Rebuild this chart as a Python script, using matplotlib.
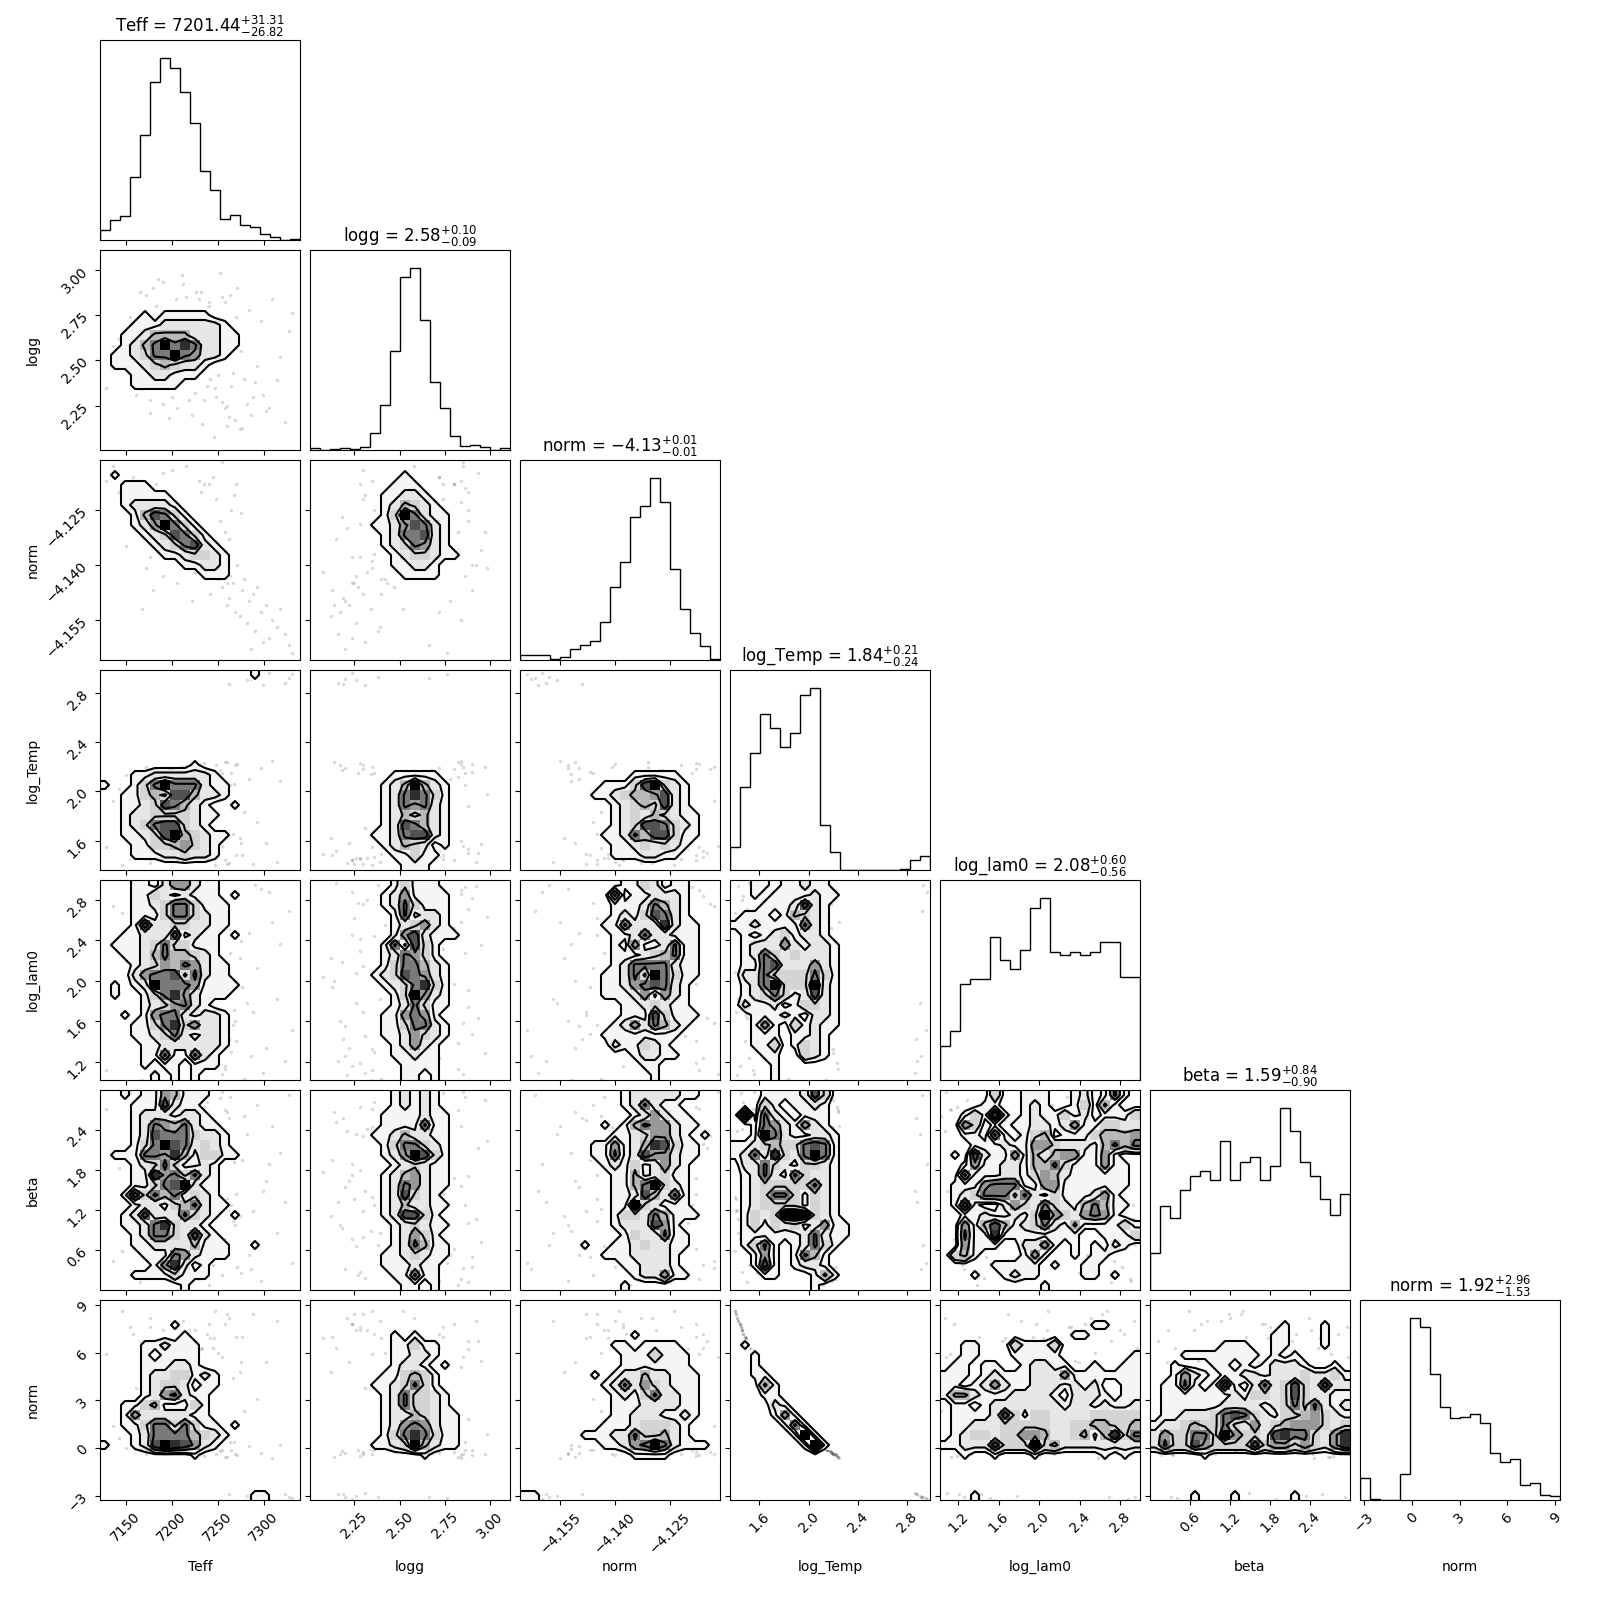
import numpy as np
import matplotlib
matplotlib.use('Agg')
import matplotlib.pyplot as plt
from matplotlib.colors import ListedColormap

# parameter names, ranges and ticks, left to right
labels = ['Teff', 'logg', 'norm', 'log_Temp', 'log_lam0', 'beta', 'norm']
ranges = [(7122, 7339.5), (2.006, 3.109), (-4.166, -4.1114), (1.362, 2.984),
          (1.019, 2.995), (0.0, 2.995), (-3.27, 9.31)]
ticks = [[7150, 7200, 7250, 7300], [2.25, 2.50, 2.75, 3.00], [-4.155, -4.140, -4.125],
         [1.6, 2.0, 2.4, 2.8], [1.2, 1.6, 2.0, 2.4, 2.8], [0.6, 1.2, 1.8, 2.4], [-3, 0, 3, 6, 9]]
titles = [r'Teff = $7201.44_{-26.82}^{+31.31}$', r'logg = $2.58_{-0.09}^{+0.10}$',
          r'norm = $-4.13_{-0.01}^{+0.01}$', r'log_Temp = $1.84_{-0.24}^{+0.21}$',
          r'log_lam0 = $2.08_{-0.56}^{+0.60}$', r'beta = $1.59_{-0.90}^{+0.84}$',
          r'norm = $1.92_{-1.53}^{+2.96}$']

# 1d histogram heights, 20 bins each
hist_teff = [29, 60, 71, 188, 314, 474, 545, 515, 443, 350, 206, 149, 62, 74, 44, 39, 18, 8, 1, 3]
hist_logg = [5, 0, 4, 6, 4, 8, 50, 134, 296, 518, 545, 390, 203, 126, 42, 12, 15, 9, 1, 5]
hist_norm = [15, 15, 15, 3, 9, 33, 45, 57, 114, 219, 294, 429, 462, 546, 474, 273, 153, 81, 42, 3]
hist_temp = [69, 249, 351, 469, 426, 369, 412, 526, 546, 135, 55, 0, 0, 0, 0, 0, 0, 2, 30, 42]
hist_lam0 = [102, 148, 288, 303, 303, 429, 360, 333, 390, 516, 546, 384, 375, 384, 375, 384, 414, 414, 309, 309]
hist_beta = [111, 252, 216, 301, 342, 357, 330, 447, 330, 384, 399, 330, 372, 546, 477, 384, 342, 273, 225, 288]
hist_norm2 = [66, 2, 0, 0, 77, 545, 520, 379, 280, 245, 248, 257, 230, 142, 115, 122, 46, 52, 14, 11]

# the outlying samples, same order in every list
s_teff = [7128, 7136, 7143, 7155, 7161, 7172, 7176, 7183, 7190, 7197, 7205, 7211, 7219, 7226, 7233, 7241,
          7247, 7252, 7258, 7263, 7267, 7271, 7276, 7279, 7284, 7288, 7293, 7297, 7303, 7309, 7314, 7318,
          7323, 7327, 7331, 7246, 7255, 7262, 7274, 7282, 7291, 7299, 7238, 7269, 7306, 7286, 7260, 7250,
          7165, 7172, 7240, 7248, 7255, 7260, 7180, 7158, 7268, 7275, 7235, 7212, 7222, 7190, 7200, 7245,
          7253, 7262, 7168, 7176, 7242, 7230, 7270, 7150, 7146, 7258, 7232, 7206, 7215, 7225, 7265, 7185]
s_logg = [2.35, 2.58, 2.62, 2.74, 2.31, 2.86, 2.21, 2.80, 2.93, 2.18, 2.84, 2.97, 2.28, 2.88, 2.15, 2.82,
          2.35, 2.98, 2.24, 2.86, 2.43, 2.90, 2.13, 2.40, 2.78, 2.30, 2.47, 2.72, 2.22, 2.84, 2.39, 2.52,
          2.16, 2.66, 2.76, 2.08, 2.27, 2.19, 2.12, 2.26, 2.38, 2.31, 2.36, 2.17, 2.24, 2.20, 2.14, 2.42,
          2.88, 2.35, 2.80, 2.30, 2.85, 2.25, 2.90, 2.72, 2.62, 2.55, 2.28, 2.92, 2.20, 2.26, 2.30, 2.72,
          2.68, 2.58, 2.34, 2.28, 2.40, 2.84, 2.74, 2.46, 2.52, 2.82, 2.88, 2.24, 2.85, 2.32, 2.36, 2.95]
s_norm = [-4.117, -4.113, -4.120, -4.122, -4.121, -4.119, -4.130, -4.118, -4.115, -4.127, -4.123, -4.131,
          -4.129, -4.128, -4.133, -4.136, -4.139, -4.141, -4.138, -4.143, -4.145, -4.140, -4.147, -4.144,
          -4.150, -4.148, -4.146, -4.153, -4.151, -4.155, -4.157, -4.152, -4.159, -4.162, -4.164, -4.142,
          -4.146, -4.149, -4.154, -4.156, -4.158, -4.161, -4.137, -4.153, -4.160, -4.163, -4.151, -4.144,
          -4.125, -4.141, -4.118, -4.122, -4.112, -4.145, -4.147, -4.116, -4.121, -4.126, -4.118, -4.140,
          -4.150, -4.143, -4.114, -4.116, -4.128, -4.133, -4.152, -4.138, -4.148, -4.117, -4.118, -4.135,
          -4.124, -4.131, -4.120, -4.145, -4.113, -4.142, -4.125, -4.136]
s_temp = [1.55, 1.92, 2.02, 1.45, 1.70, 2.15, 1.42, 2.18, 1.50, 2.17, 1.60, 2.20, 1.46, 1.88, 1.52, 2.12,
          1.40, 1.98, 1.44, 2.05, 1.65, 2.22, 1.48, 1.83, 2.10, 1.41, 1.75, 2.19, 1.58, 2.25, 1.43, 2.08,
          2.88, 2.92, 2.95, 1.49, 2.15, 2.87, 1.62, 2.90, 2.93, 2.86, 1.47, 2.21, 2.96, 2.91, 2.24, 1.54,
          1.50, 2.20, 1.44, 2.21, 1.56, 1.41, 2.16, 1.47, 2.06, 1.58, 2.23, 1.43, 2.19, 1.46, 2.18, 1.52,
          2.17, 1.42, 2.14, 1.45, 1.49, 2.22, 1.48, 2.13, 1.40, 2.24, 1.53, 1.44, 2.20, 1.46, 2.15, 1.57]
s_lam0 = [1.12, 2.74, 1.88, 2.31, 1.45, 2.93, 1.07, 2.52, 1.63, 2.18, 2.86, 1.29, 2.41, 1.74, 2.97, 1.38,
          2.09, 2.63, 1.16, 2.27, 1.56, 2.82, 1.94, 1.03, 2.47, 1.69, 2.13, 2.91, 1.34, 2.58, 1.82, 2.36,
          1.21, 2.69, 1.51, 2.04, 2.77, 1.42, 2.22, 1.78, 2.95, 1.09, 2.44, 1.60, 2.88, 1.26, 2.00, 2.55,
          2.71, 1.33, 1.97, 2.15, 1.08, 2.62, 1.47, 2.84, 1.71, 2.39, 1.19, 2.94, 1.55, 2.08, 2.76, 1.24,
          1.86, 2.51, 1.02, 2.29, 1.66, 2.90, 1.40, 2.19, 2.67, 1.13, 1.91, 2.45, 1.58, 2.80, 1.30, 2.35]
s_beta = [2.71, 0.44, 1.83, 2.95, 0.18, 1.27, 2.38, 0.62, 2.12, 0.93, 1.56, 2.84, 0.27, 1.71, 2.52, 0.08,
          1.39, 2.23, 0.76, 2.89, 1.04, 0.35, 1.94, 2.61, 0.53, 1.18, 2.77, 0.14, 1.63, 2.46, 0.85, 2.05,
          1.32, 2.92, 0.41, 1.77, 0.23, 2.58, 1.11, 2.33, 0.68, 1.49, 2.81, 0.97, 1.88, 0.31, 2.67, 1.22,
          0.12, 2.44, 1.68, 0.79, 2.96, 1.36, 0.49, 2.18, 1.91, 0.25, 2.74, 1.07, 1.54, 0.66, 2.31, 0.38,
          2.87, 1.20, 0.89, 1.79, 2.55, 0.16, 1.44, 2.08, 0.58, 2.69, 1.00, 1.72, 0.33, 2.41, 1.28, 0.72]
s_norm2 = [5.9, 1.4, 0.6, 7.6, 3.8, -0.1, 8.2, -0.25, 6.7, -0.2, 5.1, -0.35, 7.4, 1.8, 6.3, 0.0,
           8.6, 0.9, 7.8, 0.4, 4.4, -0.45, 7.0, 2.3, 0.1, 8.4, 3.1, -0.3, 5.4, -0.6, 8.0, 0.2,
           -2.9, -3.05, -3.15, 6.9, -0.1, -2.9, 4.8, -3.0, -3.1, -2.85, 7.2, -0.4, -3.2, -3.05, -0.55, 6.0,
           6.7, -0.35, 7.8, -0.4, 5.7, 8.4, -0.15, 7.2, 0.35, 5.4, -0.5, 8.0, -0.3, 7.4, -0.25, 6.3,
           -0.2, 8.2, -0.05, 7.6, 6.9, -0.45, 7.0, -0.02, 8.6, -0.55, 6.2, 7.8, -0.35, 7.4, -0.1, 5.5]

# 2d densities: one digit per bin (0 empty, 9 peak), top row first
logg_teff = ['0', '0', '0', '0', '0', '0',
    '00001011111000000000', '00011122222210000000', '00112444422211000000', '00124696862211000000',
    '01123669652210000000', '01112343221000000000', '00011221110000000000', '00011111000000000000',
    '0', '0', '0', '0', '0', '0']
norm_teff = ['0',
    '01000000000000000000', '00111000000000000000', '00111110000000000000', '00122221000000000000',
    '00014763100000000000', '00012596310000000000', '00001237631000000000', '00000123672100000000',
    '00000011233210000000', '00000000112210000000', '00000000001110000000',
    '0', '0', '0', '0', '0', '0', '0', '0']
norm_logg = ['0',
    '00000000010000000000', '00000000111000000000', '00000001122100000000', '00000001243210000000',
    '00000001396211000000', '00000011257621000000', '00000001266721000000', '00000001236521000000',
    '00000000123321100000', '00000000112210000000', '00000000011110000000',
    '0', '0', '0', '0', '0', '0', '0', '0']
temp_teff = ['00000000000000010000', '0', '0', '0', '0', '0', '0', '0', '0',
    '00000000010000000000', '00011222222100000000', '10013696662110000000', '00113437742210000000',
    '00112376421001000000', '00122333321100000000', '00123677321000000000', '00112379432110000000',
    '00011334532100000000', '00011122322100000000', '0']
temp_logg = ['0', '0', '0', '0', '0', '0', '0', '0', '0', '0',
    '00000000111110000000', '00000001249421000000', '00000001268631000000', '00000001265621000000',
    '00000001243421000000', '00000001276421000000', '00000011267721000000', '00000001243201000000',
    '00000000113110000000', '00000000011100000000']
temp_norm = ['0', '0', '0', '0', '0', '0', '0', '0', '0', '0',
    '00000000000111110000', '00000000111379321000', '00000001123445721000', '00000000012343721000',
    '00000000012324321100', '00000000012377632100', '00000000112647731100', '00000000011232321000',
    '00000000011122110000', '0']
lam0_teff = ['00011025521100000000', '00011321211101000000', '00011236631110000000', '00011136632110000000',
    '00017223322110000000', '00112227121101000000', '01112363311100000000', '00112464432100000000',
    '00012354652110000000', '00025667362110000000', '01012966651111000000', '01001368521110000000',
    '00001235621000000000', '00101566212210000000', '00011368352210000000', '00011236212210000000',
    '00001122222210000000', '00001161162100000000', '00001011011100000000', '00000101010000000000']
lam0_logg = ['00000000131110000000', '00000001251111000000', '00000001263111000000', '00000000161221000000',
    '00000000123521000000', '00000000157211100000', '00000001617310000000', '00000001265310000000',
    '00000001366421000000', '00000012376521000000', '00000001236831000000', '00000000139521000000',
    '00000000126311000000', '00000001156510000000', '00000001136621000000', '00000001125321000000',
    '00000000125210000000', '00000000112110000000', '00000000011110000000', '00000000011010000000']
lam0_norm = ['00000000001132011000', '00000000060112221000', '00000000011126421000', '00000000012137621000',
    '00000000116222821100', '00000000011262211100', '00000000010511261100', '00000000011123461100',
    '00000000012666621100', '00000000112639631100', '00000000112567621000', '00000000111251521000',
    '00000000001123211000', '00000000001117311100', '00000000012526421000', '00000000111111110000',
    '00000000021132100000', '00000000000122110000', '00000000000011000000', '00000000000001000000']
lam0_temp = ['00110112110000000000', '00101111211000000000', '00011127210000000000', '01110143210000000000',
    '11211116210000000000', '01012312210000000000', '01222521221000000000', '01263232221000000000',
    '01167222521000000000', '02263333631000000000', '01269333921000000000', '01236312721000000000',
    '02112013321000000000', '00111210221000000000', '00151031211000000000', '00111011210000000000',
    '00113013210000000000', '00011003210000000000', '00001000000000000000', '00001000000000000000']
beta_teff = ['00101154111000000000', '00011172110000000000', '00012221221000000000', '00012654621100000000',
    '00012766632210000000', '00013697623210000000', '01116658413311000000', '00012363112100000000',
    '00011856362100000000', '00011367921100000000', '00173646232100000000', '00012213462110000000',
    '00127222632101000000', '00112683221000000000', '00012663272100000000', '00011222241110010000',
    '00001116521110000000', '00000158201000000000', '00011113111000000000', '00000000100000000000']
beta_logg = ['00000000121210000000', '00000000121210000000', '00000001111211000000', '00000001111611000000',
    '00000011242211000000', '00000001366321000000', '00000001259731000000', '00000000123211000000',
    '00000001245211000000', '00000001265211000000', '00000001273210000000', '00000001242211000000',
    '00000001277310000000', '00000000123211000000', '00000000125310000000', '00000000126411000000',
    '00000001123211000000', '00000001112110000000', '00000000116110000000', '00000000011010000000']
beta_norm = ['00000000001222221100', '00000000001262110000', '00000000000125211000', '00000000101465521100',
    '00000000011235521010', '00000001151248731100', '00000001161275521100', '00000000121312521000',
    '00000000011412311000', '00000000011469321000', '00000000011274261000', '00000000011932111000',
    '00000000013326411100', '00000000012227510000', '00000000001322611000', '00000010011232211000',
    '00000000111222210000', '00000000001122210000', '00000000000122511000', '00000000001000000000']
beta_temp = ['00011112730000000000', '00031011210000000000', '07062101110000000000', '00165215210000000000',
    '00196211221000000000', '11234336761000000000', '12628326961000000000', '02263213321000000000',
    '01262163221000000000', '01233333621000000000', '01236631321000000000', '01233331321000000000',
    '01323999321000000000', '01313231251100000000', '01111112621100000000', '01361012631000000000',
    '00151016410000000000', '00171012210000000000', '00011000141000000000', '00000000100000000000']
beta_lam0 = ['00000300111001201610', '00001100121001304100', '00131810121131201113', '00530101122125113322',
    '00110610134011134445', '00011121155322214646', '01072115142455115100', '00151122144631115110',
    '00611122135421111110', '01115666115511111110', '01236663621311125100', '01710025326321464110',
    '00112112139532565100', '00514741236214111131', '00611811111111001113', '00511100225101010210',
    '03410000151001011000', '00000111110100110000', '00010012110000110100', '00000000001000000000']
norm2_teff = ['0', '0', '00000001000000000000', '00000000100000000000',
    '00001121110000000000', '00001011110000000000', '00001112210000000000', '00001223312100000000',
    '00001233201100000000', '00001256211000000000', '00113411131000000000', '00152222211000000000',
    '00113663631101000000', '00012666643210000000', '10012798752100000000', '00000000010000000000',
    '0', '0', '0', '00000000000000011000']
norm2_logg = ['0', '0', '0', '00000000101000000000',
    '00000000113110000000', '00000000112210000000', '00000000122101000000', '00000001134310000000',
    '00000011236310000000', '00000001263321000000', '00000001263321000000', '00000001224321100000',
    '00000001256521100000', '00000001368631100000', '00000011239421100000', '00000000000100000000',
    '0', '0', '0', '0']
norm2_norm = ['0', '0', '0', '00000000000100000000',
    '00000000011011110000', '00000000001113111000', '00000000001111111000', '00000001012242211100',
    '00000000126253211100', '00000000012136221100', '00000000011122221100', '00000000011222112100',
    '00000000111233321000', '00000011122633421000', '00000000112569621110', '00000000000111100000',
    '0', '0', '0', '11000000000000000000']
norm2_temp = ['0', '0', '0', '0',
    '01000000000000000000', '00100000000000000000', '00100000000000000000', '00110000000000000000',
    '00041000000000000000', '00011000000000000000', '00002100000000000000', '00001510000000000000',
    '00000161000000000000', '00000019100000000000', '00000001910000000000', '0',
    '0', '0', '0', '0']
norm2_lam0 = ['0', '0', '00000000000000011000', '00000000000001100000',
    '00110003111300000000', '00110001111100000001', '01101100122110010011', '11101211122251111111',
    '11012521122212120011', '14421112222102221011', '01101222222212212112', '01111273133222233333',
    '01122233333223344334', '01233233554223414836', '11222733393422222222', '00100100010000001010',
    '0', '0', '0', '00010000000000000000']
norm2_beta = ['0', '0', '00000000000001000100', '00000000000011000100',
    '00000001110011000100', '00011111111010100000', '00100011010122210010', '00152101122122232231',
    '01161017102623732722', '01111111213323732211', '01111112222123636212', '01122236763213345321',
    '12234336325234555323', '25336639533278663258', '26337533337355353258', '00000100000000000000',
    '0', '0', '0', '00001000100000100000']

hists = [hist_teff, hist_logg, hist_norm, hist_temp, hist_lam0, hist_beta, hist_norm2]
samples = [s_teff, s_logg, s_norm, s_temp, s_lam0, s_beta, s_norm2]
panels = {(1, 0): logg_teff, (2, 0): norm_teff, (2, 1): norm_logg,
          (3, 0): temp_teff, (3, 1): temp_logg, (3, 2): temp_norm,
          (4, 0): lam0_teff, (4, 1): lam0_logg, (4, 2): lam0_norm, (4, 3): lam0_temp,
          (5, 0): beta_teff, (5, 1): beta_logg, (5, 2): beta_norm, (5, 3): beta_temp, (5, 4): beta_lam0,
          (6, 0): norm2_teff, (6, 1): norm2_logg, (6, 2): norm2_norm, (6, 3): norm2_temp,
          (6, 4): norm2_lam0, (6, 5): norm2_beta}

# grey of each density digit, and the contour levels on the same digit scale
greys = [1.0, 0.96, 0.90, 0.83, 0.72, 0.60, 0.48, 0.32, 0.18, 0.0]
levels = [0.6, 1.5, 3.5, 5.5]
cmap = ListedColormap([(g, g, g) for g in greys])


def read_grid(rows):
    grid = [[int(c) for c in r.ljust(20, '0')] for r in rows]
    return np.array(grid, dtype=float)[::-1]


fig, axes = plt.subplots(7, 7, figsize=(16, 16), dpi=100)
fig.subplots_adjust(left=0.0625, right=0.975, bottom=0.0625, top=0.975, wspace=0.05, hspace=0.05)

for i in range(7):
    for j in range(7):
        ax = axes[i, j]
        if j > i:
            ax.set_visible(False)
            continue
        xedges = np.linspace(ranges[j][0], ranges[j][1], 21)
        if i == j:
            ax.hist(xedges[:-1], bins=xedges, weights=hists[i], histtype='step', color='k')
            ax.set_ylim(0, 1.1 * max(hists[i]))
            ax.set_yticks([])
            ax.set_title(titles[i], fontsize=12)
        else:
            yedges = np.linspace(ranges[i][0], ranges[i][1], 21)
            dens = read_grid(panels[(i, j)])
            ax.plot(samples[j], samples[i], 'o', ms=2.5, color='k', alpha=0.15, mec='none', zorder=1)
            ax.pcolormesh(xedges, yedges, np.ma.masked_equal(dens, 0), cmap=cmap, vmin=-0.5, vmax=9.5, zorder=2)
            dx = xedges[1] - xedges[0]
            dy = yedges[1] - yedges[0]
            xc = np.r_[xedges[0] - dx / 2, xedges[:-1] + dx / 2, xedges[-1] + dx / 2]
            yc = np.r_[yedges[0] - dy / 2, yedges[:-1] + dy / 2, yedges[-1] + dy / 2]
            ax.contour(xc, yc, np.pad(dens, 1, mode='edge'), levels=levels, colors='k', linewidths=1.5, zorder=3)
            ax.set_ylim(ranges[i])
            ax.set_yticks(ticks[i])
            ax.ticklabel_format(useOffset=False, axis='y')
        ax.set_xlim(ranges[j])
        ax.set_xticks(ticks[j])
        ax.ticklabel_format(useOffset=False, axis='x')

        if i < 6:
            ax.set_xticklabels([])
        else:
            ax.tick_params(axis='x', labelrotation=45)
            ax.set_xlabel(labels[j], fontsize=10)
            ax.xaxis.set_label_coords(0.5, -0.3)
        if i != j:
            if j > 0:
                ax.set_yticklabels([])
            else:
                ax.tick_params(axis='y', labelrotation=45)
                ax.set_ylabel(labels[i], fontsize=10)
                ax.yaxis.set_label_coords(-0.3, 0.5)

fig.savefig('out.png', dpi=100)
